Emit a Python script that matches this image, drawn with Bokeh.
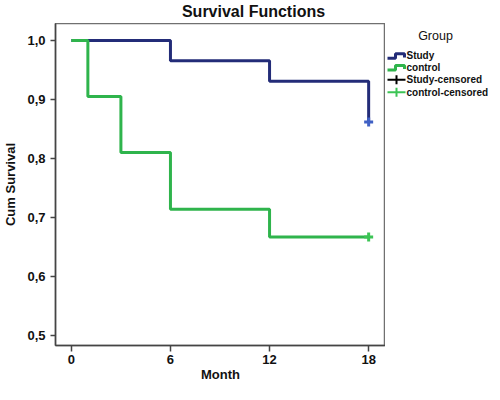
from bokeh.plotting import figure
from bokeh.models import Range1d, FixedTicker
from bokeh.layouts import column, row
from bokeh.core.properties import value
from bokeh.embed import file_html
from bokeh.resources import INLINE

# ---- data ----
study_months = [0, 6, 12, 18]
study_surv = [1.0, 0.9655, 0.931, 0.862]
control_months = [0, 1, 3, 6, 12, 18]
control_surv = [1.0, 0.905, 0.810, 0.714, 0.667, 0.667]
study_cens_months = [18]
study_cens_surv = [0.862]
control_cens_months = [18]
control_cens_surv = [0.667]
x_ticks = [0, 6, 12, 18]
y_ticks = [0.5, 0.6, 0.7, 0.8, 0.9, 1.0]
y_tick_labels = ["0,5", "0,6", "0,7", "0,8", "0,9", "1,0"]
groups = ["Study", "control", "Study-censored", "control-censored"]
title_text = "Survival Functions"
legend_title = "Group"

FONT = "Liberation Sans"
NAVY = "#232c78"
GREEN = "#2fb44c"
CENS_BLUE = "#3f60c4"
CENS_GREEN = "#3cc455"
AXIS_COL = "#444444"
BOX_COL = "#707070"

TOTAL_W, TOTAL_H = 488, 384
TITLE_H = 23
MAIN_W = 385
MAIN_H = TOTAL_H - TITLE_H
LEG_W = TOTAL_W - MAIN_W
LEFT, BOTTOM = 52, 39
PXU = 590.0
y_top = 1.0 + 17 / PXU
y_bottom = y_top - (MAIN_H - BOTTOM) / PXU
x_left = -0.96
x_right = 19.02

# ---- title strip ----
t = figure(width=TOTAL_W, height=TITLE_H, output_backend="svg", toolbar_location=None,
           x_range=Range1d(0, TOTAL_W), y_range=Range1d(TITLE_H, 0),
           x_axis_type=None, y_axis_type=None,
           min_border_left=0, min_border_right=0, min_border_top=0, min_border_bottom=0)
t.outline_line_color = None
t.grid.visible = False
t.text(x=[253], y=[2], text=[title_text], text_font=value(FONT),
       text_font_style="bold", text_font_size="16px", text_align="center",
       text_baseline="top", text_color="#111111")

# ---- main plot ----
p = figure(width=MAIN_W, height=MAIN_H, output_backend="svg", toolbar_location=None,
           x_range=Range1d(x_left, x_right), y_range=Range1d(y_bottom, y_top),
           min_border_left=LEFT, min_border_right=0, min_border_top=0,
           min_border_bottom=BOTTOM)
p.outline_line_color = BOX_COL
p.outline_line_width = 1.5
p.xgrid.visible = False
p.ygrid.visible = False

for ax in (p.xaxis[0], p.yaxis[0]):
    ax.axis_line_color = AXIS_COL
    ax.axis_line_width = 1.5
    ax.major_tick_line_color = AXIS_COL
    ax.major_tick_line_width = 1.5
    ax.minor_tick_line_color = None
    ax.major_tick_in = 0
    ax.major_label_text_font = FONT
    ax.major_label_text_font_style = "bold"
    ax.major_label_text_font_size = "13px"
    ax.major_label_text_color = "#111111"
    ax.axis_label_text_font = FONT
    ax.axis_label_text_font_style = "bold"
    ax.axis_label_text_font_size = "13px"
    ax.axis_label_text_color = "#111111"

p.xaxis.ticker = FixedTicker(ticks=x_ticks)
p.xaxis.major_tick_out = 6
p.xaxis.major_label_standoff = 3
p.xaxis.axis_label = "Month"
p.xaxis.axis_label_standoff = 0

p.yaxis.ticker = FixedTicker(ticks=y_ticks)
p.yaxis.major_label_overrides = {v: s for v, s in zip(y_ticks, y_tick_labels)}
p.yaxis.major_tick_out = 5
p.yaxis.major_label_standoff = 5
p.yaxis.axis_label = "Cum Survival"
p.yaxis.axis_label_standoff = 6

p.step(study_months, study_surv, mode="after", line_color=NAVY, line_width=3)
p.step(control_months, control_surv, mode="after", line_color=GREEN, line_width=3)
p.scatter(study_cens_months, study_cens_surv, marker="cross", size=9,
          line_color=CENS_BLUE, line_width=3)
p.scatter(control_cens_months, control_cens_surv, marker="cross", size=9,
          line_color=CENS_GREEN, line_width=3)

# ---- legend panel (pixel coordinates) ----
lg = figure(width=LEG_W, height=MAIN_H, output_backend="svg", toolbar_location=None,
            x_range=Range1d(0, LEG_W), y_range=Range1d(MAIN_H, 0),
            x_axis_type=None, y_axis_type=None,
            min_border_left=0, min_border_right=0, min_border_top=0, min_border_bottom=0)
lg.outline_line_color = None
lg.grid.visible = False
lg.text(x=[50], y=[14], text=[legend_title], text_font=value(FONT),
        text_font_size="12.5px", text_align="center", text_baseline="middle",
        text_color="#111111")
rows = [36, 49, 63, 77]
for yc, col in ((rows[0], NAVY), (rows[1], GREEN)):
    lg.line([2, 10, 10, 19, 19], [yc + 3, yc + 3, yc - 2, yc - 2, yc + 2],
            line_color=col, line_width=3)
for yc, col in ((rows[2], "black"), (rows[3], CENS_GREEN)):
    lg.segment(x0=[2, 11], y0=[yc, yc - 5], x1=[20, 11], y1=[yc, yc + 5],
               line_color=col, line_width=2)
lg.text(x=[21] * 4, y=rows, text=groups, text_font=value(FONT),
        text_font_style="bold", text_font_size="10px", text_align="left",
        text_baseline="middle", text_color="#111111")

layout = column(t, row(p, lg))
open("out.html", "w").write(file_html(layout, INLINE))
